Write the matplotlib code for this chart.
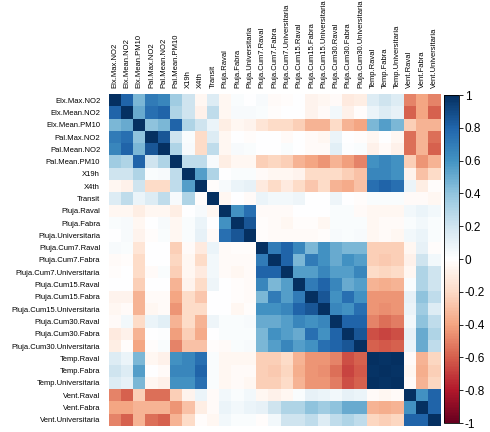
import numpy as np
import matplotlib
matplotlib.use('Agg')
import matplotlib.pyplot as plt
from matplotlib.colors import LinearSegmentedColormap

plt.rcParams['font.family'] = ['Liberation Sans', 'DejaVu Sans']

# variable names
names = ['Elx.Max.NO2', 'Elx.Mean.NO2', 'Elx.Mean.PM10', 'Pal.Max.NO2', 'Pal.Mean.NO2',
         'Pal.Mean.PM10', 'X19h', 'X4th', 'Transit', 'Pluja.Raval', 'Pluja.Fabra',
         'Pluja.Universitaria', 'Pluja.Cum7.Raval', 'Pluja.Cum7.Fabra',
         'Pluja.Cum7.Universitaria', 'Pluja.Cum15.Raval', 'Pluja.Cum15.Fabra',
         'Pluja.Cum15.Universitaria', 'Pluja.Cum30.Raval', 'Pluja.Cum30.Fabra',
         'Pluja.Cum30.Universitaria', 'Temp.Raval', 'Temp.Fabra', 'Temp.Universitaria',
         'Vent.Raval', 'Vent.Fabra', 'Vent.Universitaria']

# lower triangle of the correlation matrix (row i, columns 0..i-1)
lower = [
    [],
    [0.8],
    [0.45, 0.5],
    [0.7, 0.75, 0.4],
    [0.65, 0.8, 0.45, 0.85],
    [0.35, 0.3, 0.8, 0.2, 0.3],
    [0.2, 0.2, 0.3, 0.02, 0.03, 0.25],
    [-0.05, -0.08, 0.2, -0.2, -0.2, 0.25, 0.55],
    [0.15, 0.25, 0.08, 0.15, 0.25, 0.03, 0.3, -0.02],
    [-0.05, -0.05, -0.1, -0.05, -0.05, -0.1, 0.0, 0.03, -0.05],
    [0.02, 0.03, -0.05, 0.0, 0.03, -0.05, 0.02, 0.08, 0.0, 0.6],
    [0.0, 0.03, -0.07, -0.02, 0.02, -0.05, 0.02, 0.1, -0.03, 0.75, 0.85],
    [0.03, 0.02, -0.15, 0.0, 0.0, -0.25, -0.03, -0.12, 0.08, -0.03, -0.02, -0.02],
    [-0.03, -0.02, -0.2, 0.0, 0.0, -0.22, -0.05, -0.2, 0.05, -0.03, -0.03, -0.03, 0.7],
    [-0.02, 0.0, -0.2, -0.03, 0.02, -0.25, -0.05, -0.12, 0.05, -0.03, -0.05, -0.03, 0.8, 0.8],
    [0.0, 0.0, -0.25, 0.0, 0.0, -0.35, -0.07, -0.2, 0.07, 0.0, -0.02, -0.03, 0.65, 0.45, 0.55],
    [-0.07, -0.07, -0.35, -0.03, -0.03, -0.4, -0.2, -0.28, 0.0, 0.0, -0.02, -0.03, 0.45, 0.7,
     0.55, 0.7],
    [-0.05, -0.03, -0.35, -0.05, -0.03, -0.45, -0.2, -0.2, 0.0, 0.0, -0.05, -0.02, 0.6, 0.6,
     0.65, 0.8, 0.85],
    [-0.03, 0.05, -0.2, 0.08, 0.12, -0.35, -0.2, -0.35, 0.07, 0.02, 0.02, 0.03, 0.5, 0.5,
     0.55, 0.65, 0.6, 0.65],
    [-0.12, -0.08, -0.35, 0.0, 0.01, -0.42, -0.25, -0.38, 0.0, 0.02, 0.02, 0.02, 0.45, 0.6,
     0.55, 0.5, 0.75, 0.6, 0.8],
    [-0.1, -0.02, -0.4, -0.02, 0.02, -0.5, -0.3, -0.3, -0.02, -0.03, 0.02, 0.03, 0.45, 0.55,
     0.65, 0.55, 0.6, 0.75, 0.8, 0.85],
    [0.15, 0.08, 0.45, -0.05, -0.08, 0.6, 0.65, 0.75, 0.02, -0.05, -0.05, -0.05, -0.25, -0.25,
     -0.2, -0.35, -0.45, -0.45, -0.5, -0.65, -0.6],
    [0.2, 0.15, 0.55, 0.0, -0.03, 0.65, 0.65, 0.8, 0.02, -0.05, -0.03, -0.03, -0.25, -0.27,
     -0.22, -0.37, -0.45, -0.47, -0.55, -0.67, -0.62, 0.98],
    [0.15, 0.1, 0.45, -0.05, -0.08, 0.6, 0.6, 0.75, 0.02, -0.05, -0.03, -0.05, -0.25, -0.25,
     -0.2, -0.35, -0.45, -0.45, -0.52, -0.65, -0.6, 0.99, 0.98],
    [-0.5, -0.6, -0.25, -0.55, -0.55, -0.25, -0.07, 0.08, -0.03, 0.05, 0.02, 0.05, -0.05, -0.08,
     -0.05, 0.02, 0.1, 0.08, 0.05, 0.1, 0.08, -0.03, -0.05, -0.03],
    [-0.4, -0.4, -0.35, -0.35, -0.35, -0.45, -0.3, -0.1, -0.03, 0.08, 0.05, 0.08, 0.1, 0.2,
     0.3, 0.3, 0.4, 0.35, 0.4, 0.5, 0.5, -0.35, -0.37, -0.35, 0.6],
    [-0.5, -0.6, -0.35, -0.55, -0.6, -0.35, -0.2, -0.02, -0.05, 0.05, 0.02, 0.02, -0.02, 0.05,
     0.2, 0.2, 0.25, 0.15, 0.25, 0.3, 0.25, -0.22, -0.25, -0.22, 0.8, 0.8],
]

n = len(names)
corr = np.eye(n)
for i, row in enumerate(lower):
    for j, v in enumerate(row):
        corr[i, j] = v
        corr[j, i] = v

# corrplot-style RdBu palette
cols = ['#67001F', '#B2182B', '#D6604D', '#F4A582', '#FDDBC7', '#FFFFFF',
        '#D1E5F0', '#92C5DE', '#4393C3', '#2166AC', '#053061']
cmap = LinearSegmentedColormap.from_list('corr', cols, N=200)

fig = plt.figure(figsize=(4.9, 4.32), dpi=100)
ax = fig.add_axes([108.5 / 490, 6 / 432, 332 / 490, 332 / 432])
mesh = ax.pcolormesh(corr, cmap=cmap, vmin=-1, vmax=1)
ax.set_xlim(0, n)
ax.set_ylim(n, 0)
ax.set_xticks(np.arange(n) + 0.5)
ax.set_yticks(np.arange(n) + 0.5)
ax.set_xticklabels(names, rotation=90, fontsize=5.5)
ax.set_yticklabels(names, fontsize=5.5)
ax.xaxis.tick_top()
ax.tick_params(axis='x', length=0, pad=4)
ax.tick_params(axis='y', length=0, pad=6)
for s in ax.spines.values():
    s.set_visible(False)

cax = fig.add_axes([444 / 490, 9 / 432, 15 / 490, 328 / 432])
cb = fig.colorbar(mesh, cax=cax, ticks=np.arange(-1, 1.01, 0.2))
cb.ax.set_yticklabels(['-1', '-0.8', '-0.6', '-0.4', '-0.2', '0', '0.2', '0.4', '0.6', '0.8', '1'])
cb.ax.tick_params(labelsize=8.5, length=3, width=0.6, pad=1)
cb.outline.set_linewidth(0.6)

fig.savefig('out.png', dpi=100)
